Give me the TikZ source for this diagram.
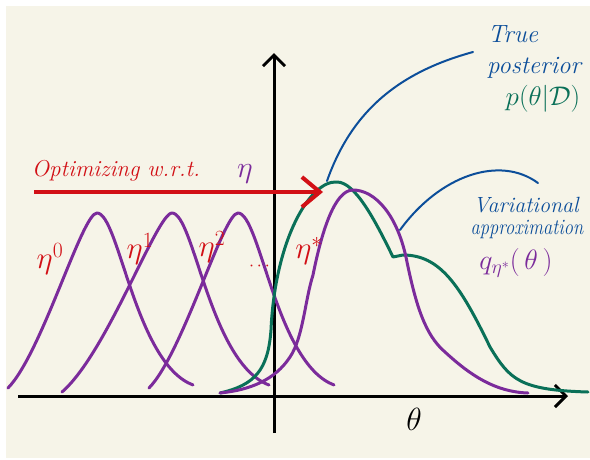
\RequirePackage{fix-cm}
\documentclass[tikz,border=0pt]{standalone}
\usepackage{amsmath}
\usetikzlibrary{arrows.meta}
\definecolor{cream}{HTML}{F6F4E8}
\definecolor{hred}{HTML}{D21016}
\definecolor{hpurple}{HTML}{7B2B9B}
\definecolor{hgreen}{HTML}{0A7058}
\definecolor{hblue}{HTML}{0C4E9A}
\tikzset{
  axis/.style={line width=3pt, black, -{Straight Barb[length=11pt,width=22pt,line width=3pt]}},
  purplecurve/.style={hpurple, line width=3pt, line cap=round, line join=round},
  greencurve/.style={hgreen, line width=3pt, line cap=round, line join=round},
  leader/.style={hblue, line width=2pt, line cap=round},
  redtxt/.style={text=hred, font=\fontsize{23}{25}\selectfont\itshape, inner sep=0pt},
  bluetxt/.style={text=hblue, font=\fontsize{25}{27}\selectfont\itshape, inner sep=0pt},
  bluesmall/.style={text=hblue, font=\fontsize{22}{24}\selectfont\itshape, inner sep=0pt},
  etatxt/.style={text=hred, font=\fontsize{31}{33}\selectfont, inner sep=0pt},
  bumpl/.pic={\draw[purplecurve] (-89,175) .. controls (-55,140) and (-15,0) .. (0,0) .. controls (22,0) and (38,150) .. (96,172);},
  bumpw/.pic={\draw[purplecurve] (-110,179) .. controls (-65,140) and (-15,0) .. (0,0) .. controls (22,0) and (38,150) .. (97,172);},
}
\begin{document}
\begin{tikzpicture}[x=1pt,y=-1pt]
\useasboundingbox (0,0) rectangle (590,459);
\fill[white] (0,0) rectangle (590,459);
\fill[cream] (6,6) rectangle (590,458);

% axes
\coordinate (xs) at (18,396);
\coordinate (xe) at (568,396);
\coordinate (ys) at (274,433);
\coordinate (ye) at (274,53);
\draw[axis] (xs) -- (xe);
\draw[axis] (ys) -- (ye);

% bumps eta^0, eta^1, eta^2
\pic at (97,213) {bumpl};
\pic at (172,213) {bumpw};
\pic at (238,213) {bumpl};

% true posterior (green)
\draw[greencurve] (220,393) .. controls (255,385) and (268,370) .. (271,330)
  .. controls (275,240) and (310,180) .. (337,182)
  .. controls (355,182) and (375,220) .. (393,257)
  -- (403,255)
  .. controls (440,255) and (460,285) .. (490,347)
  .. controls (510,380) and (520,390) .. (588,392);

% variational approximation q* (purple)
\draw[purplecurve] (220,393) .. controls (250,390) and (275,380) .. (290,357)
  .. controls (303,338) and (305,300) .. (313,275)
  .. controls (322,230) and (335,190) .. (353,190)
  .. controls (375,190) and (398,215) .. (407,262)
  .. controls (416,305) and (425,335) .. (445,352)
  .. controls (470,375) and (495,392) .. (528,393);

% red arrow
\coordinate (as) at (34,192);
\coordinate (ae) at (323,192);
\draw[hred, line width=4pt, -{Straight Barb[length=18pt,width=30pt,line width=4pt]}] (as) -- (ae);

% labels
\node[redtxt] (opt) at (116,171) {Optimizing w.r.t.};
\node[text=hpurple, font=\fontsize{30}{32}\selectfont, inner sep=0pt] (eta) at (245,174) {$\eta$};

\node[etatxt] (e0) at (50,259) {$\eta^{0}$};
\node[etatxt] (e1) at (140,249) {$\eta^{1}$};
\node[etatxt] (e2) at (212,247) {$\eta^{2}$};
\node[text=hred, font=\fontsize{18}{20}\selectfont, inner sep=0pt] (dots) at (261,266) {$\cdots$};
\node[etatxt] (es) at (309,251) {$\eta^{*}$};

\node[text=black, font=\fontsize{32}{34}\selectfont, inner sep=0pt] (theta) at (414,419) {$\theta$};

\node[bluetxt] (t1) at (513,34) {True};
\node[bluetxt] (t2) at (534,68) {posterior};
\node[text=hgreen, font=\fontsize{27}{29}\selectfont, inner sep=0pt] (t3) at (543,99) {$p(\theta|\mathcal{D})$};

\node[bluesmall] (v1) at (526,205) {Variational};
\node[bluesmall] (v2) at (527,229) {\scalebox{0.84}[1]{approximation}};
\node[text=hpurple, font=\fontsize{28}{30}\selectfont, inner sep=0pt] (v3) at (516,263) {$q_{\eta^*}(\,\theta\,)$};

% leader lines
\coordinate (l1s) at (327,181);
\coordinate (l1e) at (473,52);
\draw[leader] (l1s) .. controls (352,110) and (400,72) .. (l1e);
\coordinate (l2s) at (400,230);
\coordinate (l2e) at (538,183);
\draw[leader] (l2s) .. controls (440,175) and (500,155) .. (l2e);
\end{tikzpicture}
\end{document}
